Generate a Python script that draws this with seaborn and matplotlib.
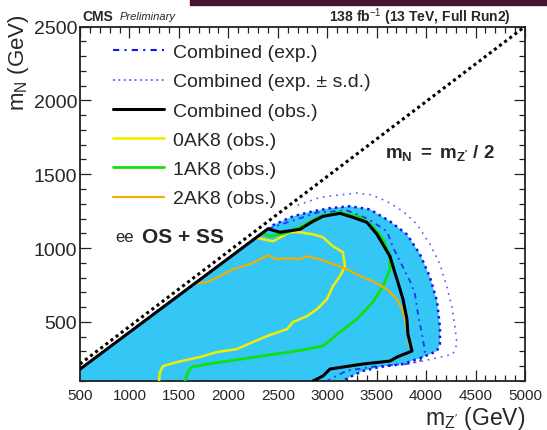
import numpy as np
import pandas as pd
import matplotlib
matplotlib.use("Agg")
import matplotlib.pyplot as plt
import seaborn as sns
from matplotlib.lines import Line2D
from matplotlib.patches import Rectangle
from matplotlib.ticker import MultipleLocator

# ---------------- data ----------------
XMIN, XMAX = 500, 5000
YMIN, YMAX = 100, 2500
x_ticks = [500, 1000, 1500, 2000, 2500, 3000, 3500, 4000, 4500, 5000]
y_ticks = [500, 1000, 1500, 2000, 2500]

# m_N = m_Z'/2 boundary line as drawn in the reference
diag_x = [500, 5000]
diag_y = [215, 2500]

# observed combined contour
obs_x = [500, 2400, 2522, 2724, 2856, 2957, 3129, 3260, 3402, 3503, 3634, 3705,
         3766, 3806, 3816, 3857, 3705, 3634, 3361, 3028, 2957, 2856]
obs_y = [180, 1130, 1107, 1127, 1181, 1215, 1235, 1208, 1174, 1093, 945, 789,
         654, 519, 418, 303, 262, 235, 215, 181, 134, 100]

# filled band edge (exp. region)
band_x = [500, 2451, 2654, 2856, 3028, 3230, 3432, 3634, 3806, 3938, 4039, 4110,
          4140, 4140, 4110, 3968, 3766, 3533, 3361, 3230, 3159]
band_y = [180, 1155, 1215, 1249, 1270, 1283, 1262, 1181, 1093, 958, 803, 641,
          465, 350, 303, 262, 215, 195, 168, 127, 100]

# expected combined (dash-dot)
exp_x = [2400, 2600, 2900, 3200, 3420, 3604, 3665, 3736, 3837, 3887, 3918, 3958,
         3988, 3938, 3806, 3500, 3200, 3050, 3000]
exp_y = [1130, 1175, 1240, 1255, 1195, 1113, 1005, 911, 776, 688, 553, 418,
         303, 235, 215, 200, 170, 120, 100]

# expected +- s.d. (outer dotted)
sd_x = [2700, 2927, 3129, 3300, 3450, 3604, 3766, 3907, 4039, 4140, 4211, 4261,
        4292, 4312, 4271, 4140, 3968, 3766, 3600]
sd_y = [1290, 1343, 1360, 1372, 1360, 1316, 1249, 1161, 1026, 891, 735, 600,
        465, 350, 282, 262, 235, 212, 200]

# 0AK8 observed
ak0_x = [2280, 2451, 2623, 2724, 2856, 2957, 3058, 3159, 3180, 3129, 3058, 2997,
         2896, 2795, 2654, 2593, 2391, 2249, 2087, 1885, 1713, 1481, 1339, 1309, 1299]
ak0_y = [1070, 1046, 1107, 1107, 1093, 1073, 1012, 972, 877, 810, 742, 654,
         586, 539, 499, 451, 404, 364, 316, 296, 262, 228, 201, 161, 100]

# 1AK8 observed
ak1_x = [2340, 2421, 2573, 2724, 2927, 3129, 3331, 3462, 3564, 3634, 3634, 3564,
         3462, 3301, 3129, 2957, 2795, 2623, 2472, 2138, 1794, 1632, 1592, 1561]
ak1_y = [1100, 1080, 1100, 1141, 1215, 1242, 1208, 1147, 1060, 945, 857, 742,
         634, 519, 431, 337, 316, 296, 282, 249, 215, 195, 161, 100]

# 2AK8 observed
ak2_x = [1660, 1784, 1916, 2047, 2219, 2320, 2401, 2492, 2593, 2724, 2795, 2927,
         3058, 3200, 3331, 3462, 3604, 3705, 3766, 3796, 3816, 3826]
ak2_y = [760, 769, 810, 857, 891, 924, 951, 924, 931, 924, 945, 924,
         891, 857, 810, 776, 722, 654, 573, 485, 404, 340]

legend_labels = ["Combined (exp.)", "Combined (exp. \u00b1 s.d.)", "Combined (obs.)",
                 "0AK8 (obs.)", "1AK8 (obs.)", "2AK8 (obs.)"]

# ---------------- style ----------------
sns.set_theme(style="ticks")
plt.rcParams["font.family"] = ["Liberation Sans", "DejaVu Sans"]
plt.rcParams["mathtext.fontset"] = "custom"
plt.rcParams["mathtext.rm"] = "Liberation Sans"
plt.rcParams["mathtext.it"] = "Liberation Sans"
plt.rcParams["mathtext.bf"] = "Liberation Sans:bold"

FILL = "#34c6f4"
BLUE = "#1414f0"
LBLUE = "#5a5aff"
YEL = "#f0f000"
GRN = "#10e010"
ORG = "#f0b000"

fig = plt.figure(figsize=(5.47, 4.31), dpi=100)
ax = fig.add_axes([80 / 547, 1 - 382 / 431, 445 / 547, (382 - 27.5) / 431])

# fill region
ax.fill(band_x + [XMIN], band_y + [YMIN], color=FILL, lw=0, zorder=1)


def draw(xs, ys, **kw):
    df = pd.DataFrame({"x": xs, "y": ys})
    sns.lineplot(data=df, x="x", y="y", sort=False, estimator=None, ax=ax,
                 legend=False, **kw)


draw(sd_x, sd_y, color=LBLUE, lw=1.2, linestyle=(0, (1, 3)), zorder=2)
draw(band_x, band_y, color=BLUE, lw=1.8, linestyle=(0, (1, 1.6)), zorder=2)
draw(exp_x, exp_y, color=BLUE, lw=1.3, linestyle=(0, (3, 2.5, 1, 2.5)), alpha=0.8, zorder=3)
draw(ak0_x, ak0_y, color=YEL, lw=1.8, zorder=4)
draw(ak1_x, ak1_y, color=GRN, lw=2.0, zorder=4)
draw(ak2_x, ak2_y, color=ORG, lw=1.6, zorder=4)
draw(obs_x, obs_y, color="black", lw=2.2, zorder=5)
draw(diag_x, diag_y, color="black", lw=2.2, linestyle=(0, (1, 1.1)), zorder=6)

ax.set_xlim(XMIN, XMAX)
ax.set_ylim(YMIN, YMAX)
ax.set_xticks(x_ticks)
ax.set_yticks(y_ticks)
ax.set_xticklabels([str(t) for t in x_ticks])
ax.set_yticklabels([str(t) for t in y_ticks])
ax.xaxis.set_minor_locator(MultipleLocator(100))
ax.yaxis.set_minor_locator(MultipleLocator(100))
ax.set_xlabel("")
ax.set_ylabel("")
for s in ax.spines.values():
    s.set_visible(True)
    s.set_linewidth(1.3)
    s.set_color("#222222")
ax.tick_params(which="both", direction="in", top=True, right=True,
               color="#222222", width=0.9)
ax.tick_params(which="major", length=8)
ax.tick_params(which="minor", length=4.5)
ax.tick_params(axis="x", which="major", labelsize=11, pad=5)
ax.tick_params(axis="y", which="major", labelsize=14, pad=2)

# legend
handles = [
    Line2D([], [], color=BLUE, lw=1.5, linestyle=(0, (3, 2.5, 1, 2.5))),
    Line2D([], [], color=LBLUE, lw=1.3, linestyle=(0, (1, 2))),
    Line2D([], [], color="black", lw=2.2),
    Line2D([], [], color=YEL, lw=2.0),
    Line2D([], [], color=GRN, lw=2.0),
    Line2D([], [], color=ORG, lw=1.6),
]
leg = ax.legend(handles, legend_labels, loc="upper left",
                bbox_to_anchor=(113 / 547, 1 - 44.5 / 431), bbox_transform=fig.transFigure,
                frameon=False, fontsize=14, handlelength=2.6, handletextpad=0.5,
                labelspacing=0.6, borderpad=0, borderaxespad=0)

# annotations
ax.text((115 - 80) / 445, (382 - 238) / 354.5, "ee", transform=ax.transAxes,
        fontsize=12, va="center", ha="left")
ax.text((142 - 80) / 445, (382 - 238) / 354.5, "OS + SS", transform=ax.transAxes,
        fontsize=15, va="center", ha="left", fontweight="bold")
ax.text((385 - 80) / 445, (382 - 153) / 354.5,
        r"$\mathbf{m}_{\mathbf{N}}\mathbf{\ =\ m}_{\mathbf{Z'}}\mathbf{\ /\ 2}$",
        transform=ax.transAxes, fontsize=13.5, va="center", ha="left")

# header
fig.text(82 / 547, 1 - 17 / 431, "CMS", fontsize=10, fontweight="bold", va="center", ha="left")
fig.text(120 / 547, 1 - 17 / 431, "Preliminary", fontsize=8, fontstyle="italic",
         va="center", ha="left")
fig.text(511 / 547, 1 - 17 / 431, r"138 fb$^{-1}$ (13 TeV, Full Run2)", fontsize=10,
         fontweight="bold", va="center", ha="right")

# axis labels
fig.text(19 / 547, 1 - 14 / 431, r"m$_{\mathrm{N}}$ (GeV)", rotation=90, fontsize=16,
         va="top", ha="center")
fig.text(525 / 547, 1 - 419 / 431, r"m$_{\mathrm{Z'}}$ (GeV)", fontsize=16.5,
         va="center", ha="right")

# top decoration bar
fig.patches.append(Rectangle((190 / 547, 1 - 6 / 431), 1 - 190 / 547, 6 / 431,
                             transform=fig.transFigure, color="#4a1232", zorder=10))

fig.savefig("out.png", dpi=100)
